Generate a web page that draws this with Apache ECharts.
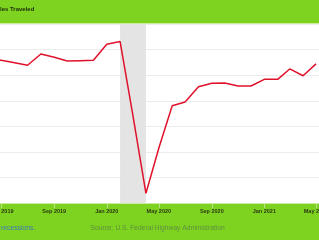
<!DOCTYPE html>
<html><head><meta charset="utf-8">
<script src="https://cdn.jsdelivr.net/npm/echarts@6/dist/echarts.min.js"></script>
<style>html,body{margin:0;padding:0;background:#7ed321}#c{width:319px;height:240px}</style>
</head><body><div id="c"></div>
<script>
const months = ['2019-04','2019-05','2019-06','2019-07','2019-08','2019-09','2019-10','2019-11','2019-12',
  '2020-01','2020-02','2020-03','2020-04','2020-05','2020-06','2020-07','2020-08','2020-09','2020-10','2020-11','2020-12',
  '2021-01','2021-02','2021-03','2021-04','2021-05'];
const vmt = [271.5,271.7,269.8,267.8,276.6,274.0,271.1,271.4,271.7,
  284.2,286.3,230.0,167.8,203.2,236.2,239.1,251.0,253.7,253.9,251.6,251.6,
  256.8,256.8,264.9,259.6,268.9];
const tickMonths = ['2019-05','2019-09','2020-01','2020-05','2020-09','2021-01','2021-05'];
const recession = ['2020-02','2020-04'];
const monthNames = ['Jan','Feb','Mar','Apr','May','Jun','Jul','Aug','Sep','Oct','Nov','Dec'];
const titleText = 'les Traveled';
const footLeft = 'recessions.';
const footSource = 'Source: U.S. Federal Highway Administration';

function ts(m){const [y,mo]=m.split('-').map(Number);return Date.UTC(y,mo-1,1);}
const data = months.map((m,i)=>[ts(m), vmt[i]]);
const chart = echarts.init(document.getElementById('c'));
chart.setOption({
  backgroundColor:'#7ed321',
  animation:false,
  grid:{left:0,right:0,top:24,bottom:36.7,show:true,backgroundColor:'#ffffff',borderWidth:0,
    containLabel:false,outerBoundsMode:'none'},
  xAxis:{type:'value',min:Date.UTC(2019,3,28),max:Date.UTC(2021,4,8),
    splitLine:{show:false},
    axisLine:{show:true,lineStyle:{color:'#c9ea9f',width:1}},
    axisTick:{show:true,customValues:tickMonths.map(ts),length:5,lineStyle:{color:'#b8e388'}},
    axisLabel:{customValues:tickMonths.map(ts),margin:5,fontSize:5.5,fontWeight:'bold',color:'#2a3a10',fontFamily:'Liberation Sans',
      hideOverlap:false,showMinLabel:true,showMaxLabel:true,
      formatter:v=>{const d=new Date(v);return monthNames[d.getUTCMonth()]+' '+d.getUTCFullYear();}}
  },
  yAxis:{type:'value',min:160,max:300,interval:20,axisLabel:{show:false},axisLine:{show:false},axisTick:{show:false},
    splitLine:{lineStyle:{color:'#ececec',width:1.2}}},
  series:[{type:'line',data:data,symbol:'none',lineStyle:{color:'#e0122b',width:1.5},
    markArea:{silent:true,itemStyle:{color:'#e4e4e4'},data:[[{xAxis:ts(recession[0])},{xAxis:ts(recession[1])}]]}
  }],
  graphic:[
    {type:'line',shape:{x1:0,y1:23.5,x2:319,y2:23.5},style:{stroke:'#c8ec9a',lineWidth:1}},
    {type:'text',left:0,top:6.5,style:{text:titleText,font:'bold 6px "Liberation Sans"',fill:'#1e2a0a'}},
    {type:'text',left:1,top:224.5,style:{text:footLeft,font:'6.8px "Liberation Sans"',fill:'#3d78b8'}},
    {type:'text',left:90.5,top:224.5,style:{text:footSource,font:'6.7px "Liberation Sans"',fill:'#5f8f3e'}}
  ]
});
</script></body></html>
